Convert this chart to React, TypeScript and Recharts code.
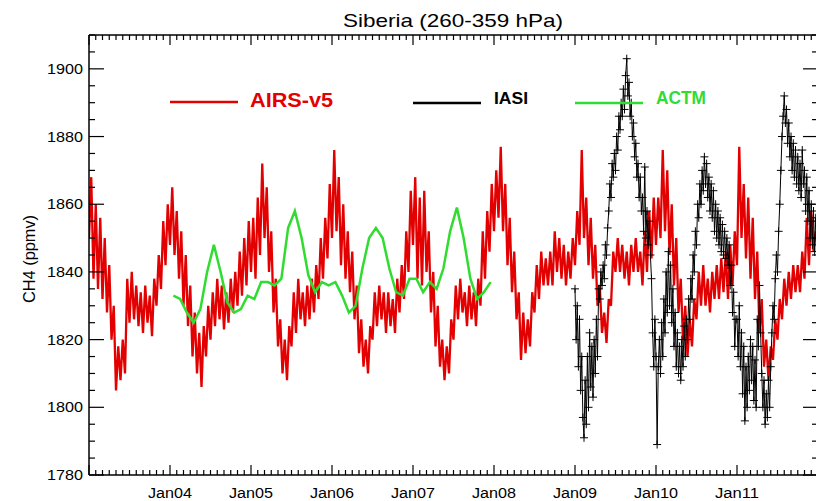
import React from "react";
import { LineChart, Line, XAxis, YAxis } from "recharts";

// AIRS-v5, 36 samples per year
const airs2003 = [1850, 1868, 1838, 1860, 1835, 1856, 1832, 1850, 1828, 1842, 1820, 1830, 1805, 1818, 1808, 1820, 1810, 1838, 1825, 1840, 1826, 1836, 1824, 1834, 1822, 1836, 1825, 1833, 1821, 1838, 1830, 1845, 1835, 1855, 1842, 1860];
const airs2004 = [1848, 1865, 1845, 1858, 1838, 1852, 1830, 1845, 1824, 1836, 1815, 1828, 1810, 1822, 1806, 1824, 1815, 1830, 1820, 1834, 1824, 1838, 1826, 1836, 1823, 1834, 1825, 1838, 1828, 1840, 1830, 1846, 1833, 1850, 1836, 1855];
const airs2005 = [1840, 1856, 1838, 1862, 1845, 1872, 1850, 1865, 1840, 1852, 1828, 1838, 1818, 1826, 1810, 1820, 1808, 1824, 1818, 1834, 1822, 1838, 1826, 1834, 1824, 1836, 1826, 1838, 1828, 1842, 1832, 1850, 1838, 1856, 1844, 1866];
const airs2006 = [1850, 1876, 1852, 1868, 1842, 1860, 1838, 1852, 1834, 1846, 1826, 1836, 1816, 1826, 1812, 1820, 1810, 1824, 1820, 1834, 1824, 1836, 1826, 1834, 1822, 1834, 1824, 1832, 1822, 1838, 1828, 1842, 1832, 1852, 1840, 1864];
const airs2007 = [1848, 1868, 1838, 1862, 1836, 1864, 1840, 1852, 1828, 1840, 1818, 1830, 1812, 1820, 1808, 1818, 1810, 1826, 1820, 1836, 1826, 1838, 1828, 1834, 1824, 1836, 1826, 1834, 1824, 1838, 1830, 1852, 1838, 1858, 1846, 1866];
const airs2008 = [1852, 1870, 1856, 1877, 1852, 1866, 1842, 1856, 1834, 1846, 1826, 1834, 1814, 1828, 1816, 1826, 1818, 1834, 1828, 1842, 1832, 1846, 1836, 1844, 1836, 1846, 1836, 1852, 1840, 1850, 1838, 1848, 1836, 1846, 1838, 1850];
const airs2009 = [1842, 1858, 1848, 1876, 1850, 1862, 1842, 1856, 1838, 1848, 1830, 1836, 1822, 1828, 1819, 1832, 1830, 1846, 1840, 1850, 1840, 1848, 1838, 1846, 1836, 1848, 1840, 1850, 1840, 1846, 1836, 1852, 1840, 1858, 1844, 1862];
const airs2010 = [1848, 1862, 1850, 1876, 1852, 1870, 1845, 1860, 1836, 1850, 1828, 1838, 1820, 1830, 1815, 1826, 1818, 1832, 1826, 1840, 1830, 1842, 1830, 1838, 1828, 1840, 1832, 1842, 1832, 1844, 1834, 1846, 1832, 1848, 1836, 1852];
const airs2011 = [1842, 1877, 1850, 1866, 1844, 1862, 1838, 1856, 1832, 1846, 1822, 1832, 1812, 1820, 1808, 1818, 1814, 1826, 1820, 1832, 1826, 1838, 1830, 1840, 1832, 1842, 1834, 1842, 1834, 1846, 1838, 1856, 1842, 1858, 1846, 1852];

// IASI, 72 samples per year from Jan 2009
const iasi2009 = [
  1835, 1820, 1830, 1812, 1826, 1805, 1815, 1797, 1791, 1808, 1795, 1815, 1800, 1822, 1806, 1818, 1803, 1820,
  1810, 1826, 1815, 1835, 1832, 1840, 1836, 1842, 1838, 1848, 1845, 1853, 1858, 1866, 1862, 1872, 1868, 1875,
  1870, 1880, 1876, 1886, 1882, 1890, 1886, 1894, 1888, 1898, 1903, 1892, 1896, 1886, 1890, 1880, 1884, 1874,
  1878, 1868, 1872, 1862, 1868, 1858, 1862, 1852, 1871, 1850, 1858, 1848, 1855, 1845, 1838, 1822, 1812, 1826,
];
const iasi2010 = [
  1815, 1789, 1812, 1820, 1810, 1825, 1815, 1832, 1822, 1840, 1828, 1846, 1830, 1842, 1825, 1835, 1818, 1828,
  1812, 1822, 1810, 1818, 1808, 1820, 1812, 1824, 1815, 1826, 1820, 1832, 1826, 1838, 1832, 1845, 1840, 1852,
  1848, 1860, 1856, 1866, 1860, 1870, 1864, 1874, 1866, 1872, 1862, 1868, 1858, 1866, 1856, 1864, 1852, 1860,
  1850, 1858, 1848, 1856, 1846, 1854, 1845, 1852, 1844, 1850, 1842, 1848, 1836, 1842, 1828, 1834, 1818, 1826,
];
const iasi2011 = [
  1826, 1815, 1830, 1812, 1822, 1804, 1818, 1796, 1812, 1800, 1815, 1805, 1820, 1808, 1818, 1802, 1814, 1800,
  1826, 1818, 1836, 1822, 1810, 1800, 1808, 1795, 1804, 1797, 1808, 1800, 1812, 1822, 1830, 1826, 1838, 1845,
  1840, 1852, 1860, 1870, 1880, 1886, 1892, 1884, 1888, 1878, 1884, 1874, 1880, 1870, 1878, 1868, 1876, 1866,
  1874, 1864, 1872, 1862, 1876, 1866, 1870, 1858, 1868, 1855, 1864, 1850, 1860, 1848, 1858, 1846, 1856, 1850,
];

// ACTM monthly means, Jan 2004 - Dec 2007
const actm2004 = [1833, 1832, 1828, 1825, 1829, 1840, 1848, 1840, 1831, 1828, 1829, 1833];
const actm2005 = [1832, 1837, 1837, 1836, 1838, 1853, 1858, 1850, 1839, 1834, 1837, 1836];
const actm2006 = [1837, 1833, 1828, 1830, 1841, 1850, 1853, 1850, 1841, 1834, 1833, 1838];
const actm2007 = [1838, 1834, 1837, 1835, 1841, 1852, 1859, 1850, 1838, 1832, 1834, 1837];

const airsYears = [airs2003, airs2004, airs2005, airs2006, airs2007, airs2008, airs2009, airs2010, airs2011];
const iasiYears = [iasi2009, iasi2010, iasi2011];
const actmYears = [actm2004, actm2005, actm2006, actm2007];

const RED = "#e30000";
const GREEN = "#30dc30";
const FONT = "'Liberation Sans', Arial, sans-serif";

const bySample = (firstYear: number, years: number[][], offset: number) =>
  years.flatMap((vals, y) =>
    vals.map((v, i) => ({ t: firstYear + y + (i + offset) / vals.length, v }))
  );

const airsData = bySample(2003, airsYears, 0);
const iasiData = bySample(2009, iasiYears, 0);
const actmData = bySample(2004, actmYears, 0.5);

const monthTicks = Array.from({ length: 109 }, (_, k) => 2003 + k / 12);
const ppmTicks = Array.from({ length: 27 }, (_, k) => 1780 + 5 * k);

const isJan = (t: number) => Math.round((t - 2003) * 12) % 12 === 0;

const BottomTick = (props: any) => {
  const { x, y, payload } = props;
  const major = isJan(payload.value);
  const yr = Math.round(payload.value);
  return (
    <g>
      <line x1={x} x2={x} y1={y} y2={y - (major ? 10 : 5)} stroke="#000" strokeWidth={1.2} />
      {major && yr >= 2004 && yr <= 2011 && (
        <text x={x} y={y + 23} textAnchor="middle" fontFamily={FONT} fontSize={14} fill="#000"
          textLength={44} lengthAdjust="spacingAndGlyphs">
          {"Jan" + String(yr % 100).padStart(2, "0")}
        </text>
      )}
    </g>
  );
};

const TopTick = (props: any) => {
  const { x, y, payload } = props;
  const major = isJan(payload.value);
  return <line x1={x} x2={x} y1={y} y2={y + (major ? 10 : 5)} stroke="#000" strokeWidth={1.2} />;
};

const LeftTick = (props: any) => {
  const { x, y, payload } = props;
  const major = payload.value % 20 === 0;
  return (
    <g>
      <line x1={x} x2={x + (major ? 15 : 6)} y1={y} y2={y} stroke="#000" strokeWidth={1.2} />
      {major && (
        <text x={x - 6} y={y + 5} textAnchor="end" fontFamily={FONT} fontSize={14} fill="#000"
          textLength={36} lengthAdjust="spacingAndGlyphs">
          {payload.value}
        </text>
      )}
    </g>
  );
};

const RightTick = (props: any) => {
  const { x, y, payload } = props;
  const major = payload.value % 20 === 0;
  return <line x1={x} x2={x - (major ? 15 : 6)} y1={y} y2={y} stroke="#000" strokeWidth={1.2} />;
};

const PlusDot = (props: any) => {
  const { cx, cy, index } = props;
  if (cx == null || cy == null) return <g key={`p-${index}`} />;
  return (
    <path key={`p-${index}`} d={`M${cx - 4},${cy}H${cx + 4}M${cx},${cy - 4}V${cy + 4}`}
      stroke="#000" strokeWidth={1} fill="none" />
  );
};

const Overlay = () => (
  <svg width={816} height={501} style={{ position: "absolute", left: 0, top: 0, pointerEvents: "none" }}>
    <text x={453} y={27} textAnchor="middle" fontFamily={FONT} fontSize={19} fill="#000"
      textLength={220} lengthAdjust="spacingAndGlyphs">
      Siberia (260-359 hPa)
    </text>
    <text transform="translate(35,259) rotate(-90)" textAnchor="middle" fontFamily={FONT} fontSize={16}
      fill="#000" textLength={88} lengthAdjust="spacingAndGlyphs">
      CH4 (ppmv)
    </text>
    <line x1={170} x2={238} y1={102} y2={102} stroke={RED} strokeWidth={2.5} />
    <text x={250} y={107} fontFamily={FONT} fontSize={20} fontWeight="bold" fill={RED}
      textLength={83} lengthAdjust="spacingAndGlyphs">AIRS-v5</text>
    <line x1={413} x2={481} y1={103} y2={103} stroke="#000" strokeWidth={2.5} />
    <text x={494} y={104} fontFamily={FONT} fontSize={17} fontWeight="bold" fill="#000"
      textLength={34} lengthAdjust="spacingAndGlyphs">IASI</text>
    <line x1={575} x2={643} y1={103} y2={103} stroke={GREEN} strokeWidth={2.5} />
    <text x={656} y={104} fontFamily={FONT} fontSize={18} fontWeight="bold" fill={GREEN}
      textLength={50} lengthAdjust="spacingAndGlyphs">ACTM</text>
  </svg>
);

export default function App() {
  return (
    <div style={{ position: "absolute", left: 0, top: 0, width: 816, height: 501, overflow: "hidden", background: "#fff" }}>
      <LineChart width={819} height={501} margin={{ top: 34, right: 0, bottom: 0, left: 29 }}>
        <XAxis xAxisId={0} type="number" dataKey="t" domain={[2003, 2012]} allowDataOverflow
          ticks={monthTicks} interval={0} tickSize={0} tickMargin={0} tickLine={false}
          tick={<BottomTick />} height={26} stroke="#000" strokeWidth={1.5} />
        <XAxis xAxisId="top" orientation="top" type="number" dataKey="t" domain={[2003, 2012]}
          allowDataOverflow ticks={monthTicks} interval={0} tickSize={0} tickMargin={0}
          tickLine={false} tick={<TopTick />} height={1} stroke="#000" strokeWidth={1.5} />
        <YAxis yAxisId={0} type="number" domain={[1780, 1910]} allowDataOverflow ticks={ppmTicks}
          interval={0} tickSize={0} tickMargin={0} tickLine={false} tick={<LeftTick />}
          width={60} stroke="#000" strokeWidth={1.5} />
        <YAxis yAxisId="right" orientation="right" type="number" domain={[1780, 1910]}
          allowDataOverflow ticks={ppmTicks} interval={0} tickSize={0} tickMargin={0}
          tickLine={false} tick={<RightTick />} width={1} stroke="#000" strokeWidth={1.5} />
        {/* invisible series so the top and right frame axes get drawn */}
        <Line data={actmData} dataKey="v" xAxisId="top" yAxisId="right" stroke="none"
          dot={false} activeDot={false} legendType="none" isAnimationActive={false} />
        <Line data={airsData} dataKey="v" type="linear" stroke={RED} strokeWidth={2.3}
          dot={false} isAnimationActive={false} />
        <Line data={iasiData} dataKey="v" type="linear" stroke="#000" strokeWidth={1}
          dot={PlusDot} isAnimationActive={false} />
        <Line data={actmData} dataKey="v" type="linear" stroke={GREEN} strokeWidth={2.5}
          dot={false} isAnimationActive={false} />
      </LineChart>
      <Overlay />
    </div>
  );
}
